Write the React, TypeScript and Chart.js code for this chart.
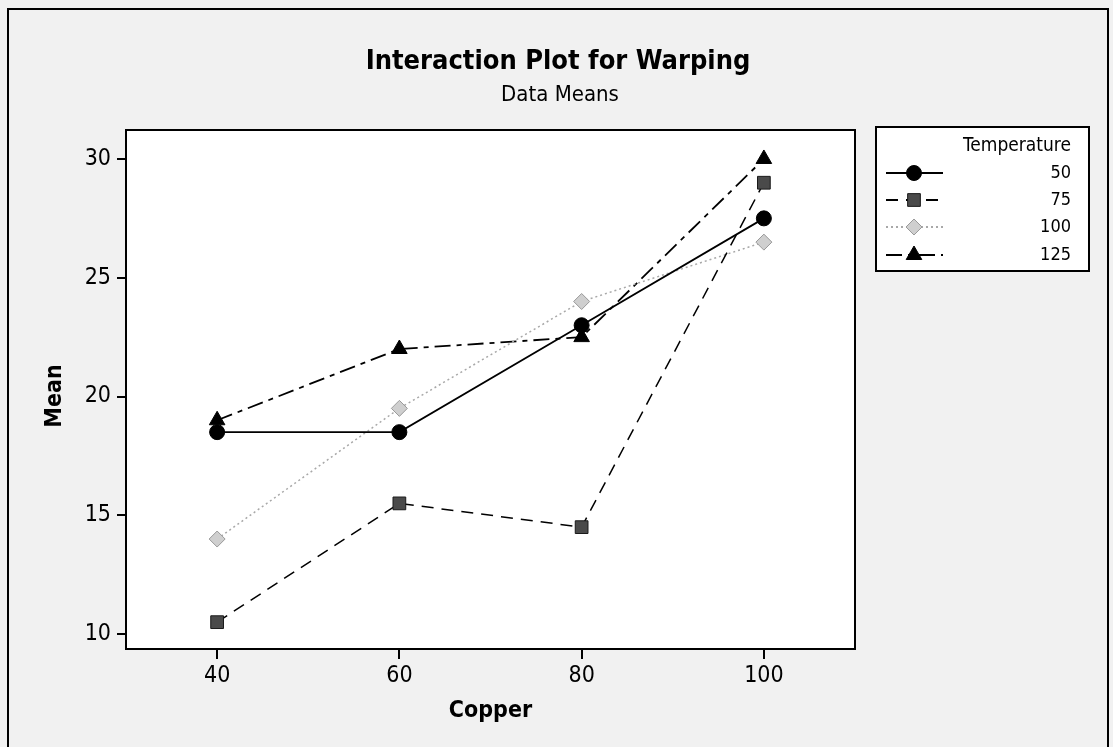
import React, { useEffect, useRef } from 'react';
import { Chart, registerables } from 'chart.js';
Chart.register(...registerables);

// ---- data ----
const copperLevels = [40, 60, 80, 100];
const temperatureLabels = ['50', '75', '100', '125'];
const mean50 = [18.5, 18.5, 23, 27.5];
const mean75 = [10.5, 15.5, 14.5, 29];
const mean100 = [14, 19.5, 24, 26.5];
const mean125 = [19, 22, 22.5, 30];
const yTickValues = [10, 15, 20, 25, 30];
const xTickValues = [40, 60, 80, 100];

const FONT = "'DejaVu Sans Condensed', 'DejaVu Sans', sans-serif";

const seriesStyles = [
  { line: '#000000', dash: [] as number[], width: 1.8, point: 'circle', radius: 7.5, fill: '#000000', stroke: '#000000' },
  { line: '#000000', dash: [12, 8], width: 1.5, point: 'rect', radius: 9, fill: '#4a4a4a', stroke: '#1a1a1a' },
  { line: '#a8a8a8', dash: [2, 3], width: 1.5, point: 'rectRot', radius: 8, fill: '#cfcfcf', stroke: '#9a9a9a' },
  { line: '#000000', dash: [16, 6, 5, 6], width: 1.8, point: 'triangle', radius: 9, fill: '#000000', stroke: '#000000' },
];
const seriesValues = [mean50, mean75, mean100, mean125];

function drawMarker(ctx: CanvasRenderingContext2D, kind: string, x: number, y: number, r: number, fill: string, stroke: string) {
  ctx.save();
  ctx.setLineDash([]);
  ctx.fillStyle = fill;
  ctx.strokeStyle = stroke;
  ctx.lineWidth = 1;
  ctx.beginPath();
  if (kind === 'circle') {
    ctx.arc(x, y, r, 0, Math.PI * 2);
  } else if (kind === 'rect') {
    const s = Math.SQRT1_2 * r;
    ctx.rect(x - s, y - s, 2 * s, 2 * s);
  } else if (kind === 'rectRot') {
    ctx.moveTo(x - r, y);
    ctx.lineTo(x, y - r);
    ctx.lineTo(x + r, y);
    ctx.lineTo(x, y + r);
    ctx.closePath();
  } else {
    const t = (2 * Math.PI) / 3;
    ctx.moveTo(x, y - r);
    ctx.lineTo(x + Math.sin(t) * r, y - Math.cos(t) * r);
    ctx.lineTo(x - Math.sin(t) * r, y - Math.cos(t) * r);
    ctx.closePath();
  }
  ctx.fill();
  ctx.stroke();
  ctx.restore();
}

const decorPlugin = {
  id: 'decor',
  beforeDraw(chart: any) {
    const { ctx, chartArea, width, height } = chart;
    ctx.save();
    ctx.fillStyle = '#f1f1f1';
    ctx.fillRect(0, 0, width, height);
    ctx.fillStyle = '#ffffff';
    ctx.fillRect(chartArea.left, chartArea.top, chartArea.right - chartArea.left, chartArea.bottom - chartArea.top);
    ctx.restore();
  },
  afterDraw(chart: any) {
    const { ctx, chartArea } = chart;
    ctx.save();
    // plot frame
    ctx.strokeStyle = '#000';
    ctx.lineWidth = 2;
    ctx.setLineDash([]);
    ctx.strokeRect(chartArea.left, chartArea.top, chartArea.right - chartArea.left, chartArea.bottom - chartArea.top);
    // outer frame
    ctx.beginPath();
    ctx.moveTo(8, 760);
    ctx.lineTo(8, 9);
    ctx.lineTo(1108, 9);
    ctx.lineTo(1108, 760);
    ctx.stroke();

    // titles
    ctx.fillStyle = '#000';
    ctx.textAlign = 'center';
    ctx.textBaseline = 'middle';
    ctx.font = `bold 27px ${FONT}`;
    ctx.fillText('Interaction Plot for Warping', 558, 62);
    ctx.font = `22px ${FONT}`;
    ctx.fillText('Data Means', 560, 95);

    // y axis title
    ctx.save();
    ctx.translate(55, 396);
    ctx.rotate(-Math.PI / 2);
    ctx.font = `bold 23px ${FONT}`;
    ctx.fillText('Mean', 0, 0);
    ctx.restore();

    // legend box
    const lx = 876, ly = 127, lw = 213, lh = 144;
    ctx.fillStyle = '#fff';
    ctx.fillRect(lx, ly, lw, lh);
    ctx.strokeStyle = '#000';
    ctx.lineWidth = 2;
    ctx.strokeRect(lx, ly, lw, lh);
    ctx.fillStyle = '#000';
    ctx.textAlign = 'right';
    ctx.font = `19px ${FONT}`;
    ctx.fillText('Temperature', 1071, 146);
    const rowY = [173, 200, 227, 255];
    temperatureLabels.forEach((lab, i) => {
      const st = seriesStyles[i];
      const y = rowY[i];
      ctx.save();
      ctx.strokeStyle = st.line;
      ctx.lineWidth = 2;
      ctx.setLineDash(st.dash);
      ctx.beginPath();
      ctx.moveTo(886, y);
      ctx.lineTo(943, y);
      ctx.stroke();
      ctx.restore();
      drawMarker(ctx, st.point, 914, y, st.radius, st.fill, st.stroke);
      ctx.fillStyle = '#000';
      ctx.textAlign = 'right';
      ctx.font = `18px ${FONT}`;
      ctx.fillText(lab, 1071, y);
    });
    ctx.restore();
  },
};

export default function App() {
  const ref = useRef<HTMLCanvasElement | null>(null);
  useEffect(() => {
    if (!ref.current) return;
    const datasets = temperatureLabels.map((lab, i) => {
      const st = seriesStyles[i];
      return {
        label: lab,
        data: copperLevels.map((c, j) => ({ x: c, y: seriesValues[i][j] })),
        borderColor: st.line,
        borderWidth: st.width,
        borderDash: st.dash,
        pointStyle: st.point,
        pointRadius: st.radius,
        pointBackgroundColor: st.fill,
        pointBorderColor: st.stroke,
        pointBorderWidth: 1,
        tension: 0,
        fill: false,
      };
    });
    const chart = new Chart(ref.current, {
      type: 'line',
      data: { datasets } as any,
      plugins: [decorPlugin],
      options: {
        animation: false,
        responsive: false,
        devicePixelRatio: 1,
        layout: { padding: { top: 130, right: 258, bottom: 0, left: 0 } },
        plugins: { legend: { display: false }, tooltip: { enabled: false }, title: { display: false } },
        scales: {
          x: {
            type: 'linear',
            min: 30,
            max: 110,
            afterBuildTicks: (s: any) => { s.ticks = xTickValues.map((v) => ({ value: v })); },
            afterFit: (s: any) => { s.height = 98; },
            ticks: { color: '#000', font: { family: FONT, size: 23 }, padding: 3 },
            grid: { drawOnChartArea: false, drawTicks: true, tickLength: 10, color: '#000', lineWidth: 2 },
            border: { display: false },
            title: { display: true, text: 'Copper', color: '#000', font: { family: FONT, size: 23, weight: 'bold' }, padding: { top: 0, bottom: 22 } },
          },
          y: {
            type: 'linear',
            min: 9.37,
            max: 31.22,
            afterBuildTicks: (s: any) => { s.ticks = yTickValues.map((v) => ({ value: v })); },
            afterFit: (s: any) => { s.width = 126; },
            ticks: { color: '#000', font: { family: FONT, size: 23 }, padding: 6 },
            grid: { drawOnChartArea: false, drawTicks: true, tickLength: 9, color: '#000', lineWidth: 2 },
            border: { display: false },
            title: { display: false },
          },
        },
      } as any,
    });
    return () => chart.destroy();
  }, []);
  return (
    <div style={{ position: 'absolute', left: 0, top: 0, width: 1113, height: 747 }}>
      <canvas ref={ref} width={1113} height={747} style={{ width: 1113, height: 747, display: 'block' }} />
    </div>
  );
}
